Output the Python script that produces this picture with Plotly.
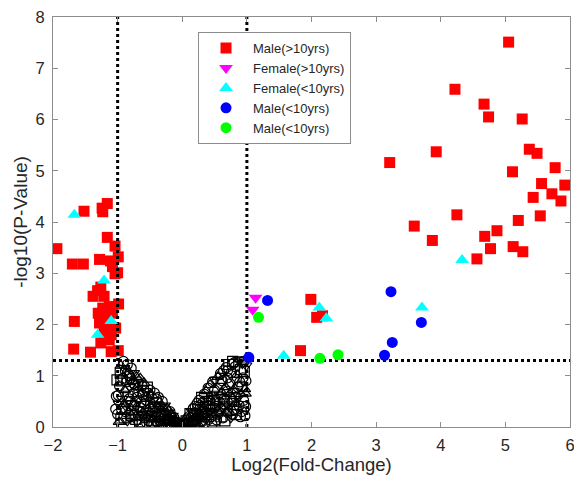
import plotly.graph_objects as go

# significant points
male_old_x = [5.05, 4.22, 4.67, 4.74, 5.26, 3.93, 3.21, 5.37, 5.49, 5.77, 5.11, 5.56, 5.92, 5.72,
              5.43, 5.86, 4.25, 5.54, 5.20, 3.59, 4.87, 3.87, 4.68, 4.77, 5.12, 5.27, 4.56,
              1.99, 2.08, 2.17, 1.83,
              -1.94, -1.52, -1.24, -1.16, -1.23, -1.16, -1.04, -0.99, -1.70, -1.53, -1.28, -1.11,
              -1.08, -1.04, -1.00, -1.26, -1.31, -1.38, -1.21, -0.985, -1.23, -1.13, -1.30, -1.21,
              -1.08, -1.28, -1.18, -1.03, -1.67, -1.21, -1.10, -1.13, -1.26, -1.68, -1.42, -1.10,
              -0.99]
male_old_y = [7.51, 6.59, 6.30, 6.05, 6.01, 5.37, 5.16, 5.42, 5.34, 5.06, 4.98, 4.75, 4.72, 4.55,
              4.48, 4.41, 4.14, 4.12, 4.03, 3.92, 3.83, 3.64, 3.72, 3.48, 3.52, 3.42, 3.28,
              2.49, 2.14, 2.17, 1.49,
              3.48, 4.21, 4.27, 4.36, 4.20, 3.70, 3.53, 3.32, 3.18, 3.18, 3.27, 3.24,
              3.13, 2.99, 3.01, 2.73, 2.66, 2.55, 2.55, 2.40, 2.32, 2.35, 2.22, 2.19,
              2.22, 2.03, 2.00, 1.93, 2.06, 1.83, 1.80, 1.70, 1.64, 1.52, 1.46, 1.47,
              1.49]

female_old_x = [1.135, 1.09]
female_old_y = [2.52, 2.29]

female_young_x = [4.33, 2.12, 2.23, 1.57, 3.71, -1.67, -1.21, -1.10, -1.31]
female_young_y = [3.26, 2.33, 2.12, 1.39, 2.33, 4.14, 2.86, 2.07, 1.80]

male_young_blue_x = [1.32, 1.03, 3.23, 3.25, 3.13, 3.70]
male_young_blue_y = [2.47, 1.36, 2.64, 1.65, 1.40, 2.04]

male_young_green_x = [1.18, 2.13, 2.41]
male_young_green_y = [2.14, 1.34, 1.41]

# non-significant cloud (|log2 FC| < 1 or p above cut-off)
ns_x = [-1.03, -1.02, -1.01, -0.98,
        -1.00, -0.98, -0.99, -0.97, -0.96, -0.95, -0.94, -0.93, -0.92, -0.91, -0.90, -0.89, -0.88,
        -0.87, -0.86, -0.85, -0.84, -0.83, -0.82, -0.81, -0.80, -0.79, -0.78, -0.77, -0.76, -0.75,
        -0.74, -0.73, -0.72, -0.71, -0.70, -0.69, -0.68, -0.67, -0.66, -0.65, -0.64, -0.63, -0.62,
        -0.61, -0.60, -0.59, -0.58, -0.57, -0.56, -0.55, -0.54, -0.53, -0.52, -0.51, -0.50, -0.49,
        -0.48, -0.47, -0.46, -0.45, -0.44, -0.43, -0.42, -0.41, -0.40, -0.39, -0.38, -0.37, -0.36,
        -0.35, -0.34, -0.33, -0.32, -0.31, -0.30, -0.29, -0.28, -0.27, -0.26, -0.25, -0.24, -0.23,
        -0.22, -0.21, -0.20, -0.19, -0.18, -0.17, -0.16, -0.15, -0.14, -0.13, -0.12, -0.11, -0.10,
        -0.09, -0.08, -0.07, -0.06, -0.05, -0.04, -0.03, -0.02, -0.01,
        -0.95, -0.90, -0.88, -0.85, -0.82, -0.80, -0.78, -0.75, -0.72, -0.70, -0.68, -0.65, -0.62,
        -0.60, -0.58, -0.55, -0.52, -0.50, -0.48, -0.45, -0.42, -0.40, -0.38, -0.35, -0.33, -0.30,
        -0.28, -0.25, -0.22, -0.20, -0.18, -0.15, -0.12, -0.10, -0.06, -0.03, -0.60, -0.70, -0.80,
        -0.90, -0.85, -0.75, -0.95,
        0.01, 0.02, 0.03, 0.04, 0.05, 0.06, 0.07, 0.08, 0.09, 0.10, 0.11, 0.12, 0.13, 0.14, 0.15,
        0.16, 0.17, 0.18, 0.19, 0.20, 0.21, 0.22, 0.23, 0.24, 0.25, 0.26, 0.27, 0.28, 0.29, 0.30,
        0.31, 0.32, 0.33, 0.34, 0.35, 0.36, 0.37, 0.38, 0.39, 0.40, 0.41, 0.42, 0.43, 0.44, 0.45,
        0.46, 0.47, 0.48, 0.49, 0.50, 0.51, 0.52, 0.53, 0.54, 0.55, 0.56, 0.57, 0.58, 0.59, 0.60,
        0.61, 0.62, 0.63, 0.64, 0.65, 0.66, 0.67, 0.68, 0.69, 0.70, 0.71, 0.72, 0.73, 0.74, 0.75,
        0.76, 0.77, 0.78, 0.79, 0.80, 0.81, 0.82, 0.83, 0.84, 0.85, 0.86, 0.87, 0.88, 0.89, 0.90,
        0.91, 0.92, 0.93, 0.94, 0.95, 0.96, 0.97, 0.98, 0.99, 0.985, 0.97,
        0.03, 0.06, 0.10, 0.12, 0.15, 0.18, 0.20, 0.22, 0.25, 0.28, 0.30, 0.33, 0.35, 0.38, 0.40,
        0.42, 0.45, 0.48, 0.50, 0.52, 0.55, 0.58, 0.60, 0.63, 0.65, 0.68, 0.70, 0.72, 0.75, 0.78,
        0.80, 0.82, 0.85, 0.88, 0.90, 0.92, 0.95, 0.98, 0.80, 0.90, 0.95, 0.70, 0.60]
ns_y = [0.35, 0.60, 0.92, 0.10,
        0.25, 0.45, 0.62, 0.80, 1.05, 1.20, 0.35, 0.55, 0.95, 1.28, 0.18, 0.72, 1.10,
        0.40, 0.88, 1.22, 0.60, 0.30, 1.00, 0.78, 0.50, 1.15, 0.22, 0.90, 0.65, 1.05,
        0.42, 0.82, 0.15, 0.98, 0.58, 0.35, 0.88, 0.70, 0.10, 0.95, 0.48, 0.25, 0.80,
        0.62, 0.40, 0.86, 0.18, 0.70, 0.52, 0.08, 0.78, 0.35, 0.60, 0.25, 0.72, 0.45,
        0.12, 0.62, 0.30, 0.52, 0.05, 0.66, 0.38, 0.20, 0.55, 0.44, 0.10, 0.58, 0.30,
        0.48, 0.18, 0.40, 0.04, 0.50, 0.26, 0.36, 0.12, 0.42, 0.22, 0.32, 0.06, 0.36,
        0.16, 0.28, 0.08, 0.30, 0.18, 0.24, 0.04, 0.22, 0.12, 0.18, 0.06, 0.14, 0.02,
        0.12, 0.06, 0.09, 0.03, 0.06, 0.02, 0.04, 0.01, 0.02,
        0.15, 0.45, 0.30, 0.12, 0.55, 0.20, 0.42, 0.28, 0.50, 0.10, 0.22, 0.38, 0.08,
        0.28, 0.45, 0.20, 0.12, 0.35, 0.22, 0.15, 0.28, 0.06, 0.20, 0.12, 0.25, 0.08,
        0.18, 0.10, 0.05, 0.15, 0.03, 0.08, 0.10, 0.05, 0.07, 0.02, 0.70, 0.78, 0.95,
        1.15, 1.05, 0.85, 0.90,
        0.02, 0.05, 0.01, 0.08, 0.04, 0.12, 0.06, 0.16, 0.03, 0.20, 0.10, 0.26, 0.05, 0.18, 0.30,
        0.12, 0.36, 0.22, 0.08, 0.40, 0.28, 0.15, 0.46, 0.34, 0.05, 0.52, 0.22, 0.42, 0.12, 0.58,
        0.32, 0.48, 0.20, 0.64, 0.08, 0.40, 0.70, 0.28, 0.55, 0.76, 0.15, 0.46, 0.82, 0.35, 0.62,
        0.05, 0.88, 0.52, 0.24, 0.72, 0.92, 0.40, 0.14, 0.60, 0.98, 0.30, 0.80, 0.48, 1.04, 0.20,
        0.68, 0.90, 0.38, 1.10, 0.56, 0.12, 0.78, 1.16, 0.44, 0.96, 0.28, 1.22, 0.64, 0.84, 0.18,
        1.06, 0.50, 1.28, 0.72, 0.34, 0.92, 1.18, 0.58, 0.24, 1.02, 0.78, 1.30, 0.42, 0.88, 1.12,
        0.64, 0.30, 1.24, 0.96, 0.52, 1.08, 0.74, 0.40, 1.20, 0.90, 0.22,
        0.03, 0.08, 0.06, 0.12, 0.08, 0.14, 0.05, 0.22, 0.18, 0.30, 0.10, 0.36, 0.24, 0.15, 0.42,
        0.30, 0.20, 0.38, 0.12, 0.50, 0.25, 0.62, 0.35, 0.18, 0.45, 0.30, 0.70, 0.40, 0.55, 0.25,
        0.65, 0.45, 0.35, 0.60, 0.20, 0.80, 0.40, 0.65, 1.25, 1.32, 1.28, 1.10, 0.95]

x_ticks = [-2, -1, 0, 1, 2, 3, 4, 5, 6]
y_ticks = [0, 1, 2, 3, 4, 5, 6, 7, 8]
fc_cut = [-1, 1]
p_cut = 1.3

shapes_cycle = ["circle-open", "circle-open", "square-open", "triangle-up-open",
                "circle-open", "triangle-down-open"]
ns_symbols = [shapes_cycle[i % len(shapes_cycle)] for i in range(len(ns_x))]

fig = go.Figure()
fig.add_trace(go.Scatter(x=ns_x, y=ns_y, mode="markers", showlegend=False,
                         marker=dict(symbol=ns_symbols, size=10, color="black",
                                     line=dict(color="black", width=1.2))))
fig.add_trace(go.Scatter(x=male_old_x, y=male_old_y, mode="markers", name="Male(>10yrs)",
                         marker=dict(symbol="square", size=11, color="#ff0000")))
for c in fc_cut:
    fig.add_trace(go.Scatter(x=[c, c], y=[0, 8], mode="lines", showlegend=False,
                             line=dict(color="black", width=3, dash="dot")))
fig.add_trace(go.Scatter(x=[-2, 6], y=[p_cut, p_cut], mode="lines", showlegend=False,
                         line=dict(color="black", width=3, dash="dot")))
fig.add_trace(go.Scatter(x=female_old_x, y=female_old_y, mode="markers", name="Female(>10yrs)",
                         marker=dict(symbol="triangle-down", size=12, color="#ff00ff")))
fig.add_trace(go.Scatter(x=female_young_x, y=female_young_y, mode="markers", name="Female(<10yrs)",
                         marker=dict(symbol="triangle-up", size=12, color="#00ffff")))
fig.add_trace(go.Scatter(x=male_young_blue_x, y=male_young_blue_y, mode="markers", name="Male(<10yrs)",
                         marker=dict(symbol="circle", size=11, color="#0000ff")))
fig.add_trace(go.Scatter(x=male_young_green_x, y=male_young_green_y, mode="markers", name="Male(<10yrs)",
                         marker=dict(symbol="circle", size=11, color="#00ff00")))

axis_style = dict(showline=True, linecolor="#8c8c8c", linewidth=1, mirror="ticks",
                  ticks="inside", ticklen=5, tickcolor="#8c8c8c", showgrid=False,
                  zeroline=False, automargin=False, ticklabeloverflow="allow",
                  tickfont=dict(size=16.5, color="#262626"))
fig.update_xaxes(range=[-2, 6], tickvals=x_ticks, ticklabelstandoff=3,
                 title=dict(text="Log2(Fold-Change)", font=dict(size=18.5, color="#262626"),
                            standoff=4), **axis_style)
fig.update_yaxes(range=[0, 8], tickvals=y_ticks, ticklabelstandoff=4,
                 title=dict(text="-log10(P-Value)", font=dict(size=19, color="#262626"),
                            standoff=2), **axis_style)
fig.update_layout(
    width=574, height=478,
    margin=dict(l=53, r=4, t=17, b=51),
    paper_bgcolor="white", plot_bgcolor="white",
    font=dict(family="Liberation Sans, Arial, sans-serif", color="#262626"),
    legend=dict(x=0.2805, y=0.963, xanchor="left", yanchor="top", itemwidth=44,
                bordercolor="#8c8c8c", borderwidth=1, bgcolor="white",
                font=dict(size=13, color="#262626"), tracegroupgap=0),
)
# drop the default 8px page margin so the figure fills the window exactly
fig.write_html("out.html", config={"displayModeBar": False},
               post_script="document.body.style.margin = '0';")
